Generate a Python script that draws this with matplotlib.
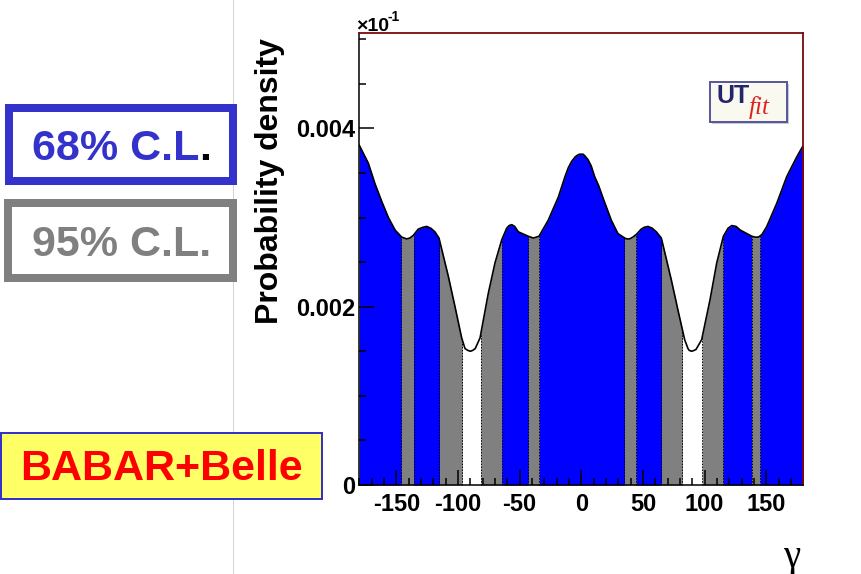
import numpy as np
import matplotlib
matplotlib.use("Agg")
import matplotlib.pyplot as plt
from matplotlib.patches import Rectangle
from matplotlib.ticker import MultipleLocator

# gamma (degrees) and posterior probability density
gamma = [-180, -172.7, -167.3, -161.8, -156.4, -151, -145.6, -143.5, -141.6, -139,
         -136.2, -132.2, -128.5, -125.4, -122, -118.7, -115.4, -107.8, -102.4, -97,
         -94.3, -92, -90, -88, -86, -82.1, -75.4, -70, -64.5, -60.5,
         -58.5, -56.4, -54, -51.1, -43, -41, -38.9, -36.5, -34.3, -26.8,
         -18.6, -13.2, -10.5, -7.8, -5, -3, -1.5, 0, 1.5, 3,
         5.4, 8, 10.8, 14, 17.6, 24.3, 29.7, 35.2, 37, 39.2,
         41.8, 44.6, 48.6, 51, 54.1, 57.5, 60.8, 64.9, 73, 78.4,
         83.8, 86.5, 87.5, 89.5, 91.5, 93, 97.6, 104.4, 109.8, 115.2,
         119, 122, 125.5, 128.8, 138.2, 141, 143.6, 146.5, 150.4, 158.5,
         166.6, 174.7, 180]
density = [0.00381, 0.00361, 0.00338, 0.00318, 0.00300, 0.00286, 0.00278, 0.00277, 0.00276, 0.00277,
           0.00280, 0.00287, 0.00289, 0.00290, 0.00288, 0.00284, 0.00277, 0.00234, 0.00200, 0.00165,
           0.00153, 0.00151, 0.00150, 0.00151, 0.00153, 0.00165, 0.00215, 0.00249, 0.00275, 0.00288,
           0.00291, 0.00292, 0.00290, 0.00284, 0.00279, 0.00278, 0.00277, 0.00278, 0.00279, 0.00297,
           0.00323, 0.00346, 0.00356, 0.00363, 0.00368, 0.00370, 0.00371, 0.00371, 0.00371, 0.00369,
           0.00365, 0.00358, 0.00346, 0.00336, 0.00322, 0.00297, 0.00282, 0.00277, 0.00276, 0.00276,
           0.00278, 0.00281, 0.00287, 0.00289, 0.00290, 0.00288, 0.00284, 0.00277, 0.00230, 0.00196,
           0.00163, 0.00153, 0.00151, 0.00150, 0.00151, 0.00152, 0.00163, 0.00208, 0.00249, 0.00279,
           0.00288, 0.00291, 0.00290, 0.00286, 0.00279, 0.00278, 0.00278, 0.00281, 0.00290, 0.00316,
           0.00346, 0.00368, 0.00381]

# credible intervals
cl95_intervals = [(-180, -96.5), (-81.5, 82), (98, 180)]
cl68_intervals = [(-180, -146), (-136, -115), (-64.5, -43), (-34, 35),
                  (44.5, 65), (115, 138), (145, 180)]

x_ticks = [-150, -100, -50, 0, 50, 100, 150]
y_ticks = [0, 0.002, 0.004]
y_tick_labels = ["0", "0.002", "0.004"]

W, H = 861, 574
PT = 0.72  # points per pixel at 100 dpi
BOLD = dict(family="Liberation Sans", weight="bold")

fig = plt.figure(figsize=(W / 100, H / 100), dpi=100)
fig.patch.set_facecolor("white")

# pixel-coordinate layer for the slide decorations
ov = fig.add_axes([0, 0, 1, 1])
ov.set_xlim(0, W)
ov.set_ylim(H, 0)
ov.axis("off")

ov.plot([233, 233], [0, H], color="#d4d4d4", lw=1 * PT, zorder=0)

ov.add_patch(Rectangle((9, 108), 224, 73, fill=True, facecolor="white",
                       edgecolor="#3333cc", lw=8 * PT, zorder=2))
ov.text(32, 160, "68% C.L", color="#3333cc", fontsize=31, ha="left", va="baseline", zorder=3, **BOLD)
ov.text(199, 160, ".", color="black", fontsize=31, ha="left", va="baseline", zorder=3, **BOLD)

ov.add_patch(Rectangle((8, 203), 225, 75, fill=True, facecolor="white",
                       edgecolor="#808080", lw=8 * PT, zorder=2))
ov.text(32, 256, "95% C.L.", color="#808080", fontsize=31, ha="left", va="baseline", zorder=3, **BOLD)

ov.add_patch(Rectangle((1, 433), 321, 66, facecolor="#ffff66",
                       edgecolor="#3333cc", lw=2 * PT, zorder=2))
ov.text(161, 480, "BABAR+Belle", color="#ff0000", fontsize=31, ha="center", va="baseline", zorder=3, **BOLD)

ov.text(270, 181, "Probability density", rotation=90, fontsize=23, ha="center", va="center", **BOLD)
ov.text(356, 31, "\u00d710", fontsize=14, ha="left", va="baseline", **BOLD)
ov.text(387, 21, "-1", fontsize=10, ha="left", va="baseline", **BOLD)
ov.text(792, 557, "\u03b3", fontsize=28, family="Liberation Serif", ha="center", va="center")

# main plot
ax = fig.add_axes([359.3 / W, (H - 485) / H, (803.3 - 359.3) / W, (485 - 32.7) / H])
g = np.asarray(gamma, dtype=float)
d = np.asarray(density, dtype=float)


def shade(a, b, color):
    inside = g[(g > a) & (g < b)]
    xs = np.concatenate([[a], inside, [b]])
    ax.fill_between(xs, 0, np.interp(xs, g, d), color=color, lw=0, zorder=1)


for a, b in cl95_intervals:
    shade(a, b, "#808080")
for a, b in cl68_intervals:
    shade(a, b, "#0000ff")

edges = sorted({e for iv in cl95_intervals + cl68_intervals for e in iv if abs(e) < 180})
ax.vlines(edges, 0, np.interp(edges, g, d), colors="black", lw=0.7,
          linestyles=(0, (1.5, 1.5)), zorder=1.5)

ax.plot(g, d, color="black", lw=1.2, zorder=2, solid_joinstyle="round")

ax.set_xlim(-180, 180)
ax.set_ylim(0, 0.005073)
ax.set_xticks(x_ticks, labels=[str(t) for t in x_ticks])
ax.set_yticks(y_ticks, labels=y_tick_labels)
ax.xaxis.set_minor_locator(MultipleLocator(10))
ax.yaxis.set_minor_locator(MultipleLocator(0.0005))
ax.tick_params(which="both", direction="in", top=False, right=False, width=1.1, color="black")
ax.tick_params(which="major", length=11)
ax.tick_params(which="minor", length=5)
ax.tick_params(axis="x", which="major", pad=6, labelsize=17)
ax.tick_params(axis="y", which="major", pad=3, labelsize=17)
for lab in ax.get_xticklabels() + ax.get_yticklabels():
    lab.set_family("Liberation Sans")
    lab.set_weight("bold")

for s in ("left", "bottom"):
    ax.spines[s].set_color("black")
    ax.spines[s].set_linewidth(1.1)
for s in ("top", "right"):
    ax.spines[s].set_color("#7a0a0a")
    ax.spines[s].set_linewidth(1.3)
ax.set_facecolor("white")

# UTfit logo, drawn on a layer above the plot
top = fig.add_axes([0, 0, 1, 1])
top.set_xlim(0, W)
top.set_ylim(H, 0)
top.axis("off")
top.add_patch(Rectangle((711.5, 83.5), 77, 40, facecolor="#c8c8d8", edgecolor="none", zorder=4))
top.add_patch(Rectangle((710, 82), 77, 40, facecolor="#f9f9ef", edgecolor="#5a5a9a",
                        lw=2 * PT, zorder=5))
top.text(716, 103, "UT", color="#24246e", fontsize=18, ha="left", va="baseline", zorder=6, **BOLD)
top.text(749, 114, "fit", color="#dd2222", fontsize=18, family="Liberation Serif",
         style="italic", ha="left", va="baseline", zorder=6)

fig.savefig("out.png", dpi=100)
